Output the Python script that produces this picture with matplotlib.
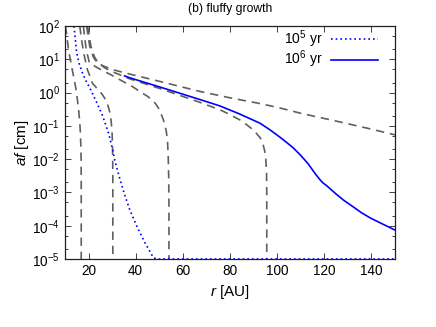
import matplotlib
matplotlib.use('Agg')
import matplotlib.pyplot as plt
from matplotlib.ticker import LogLocator, NullFormatter

plt.rcParams['font.family'] = ['Liberation Sans', 'DejaVu Sans']
plt.rcParams['mathtext.fontset'] = 'custom'
plt.rcParams['mathtext.rm'] = 'Liberation Sans'
plt.rcParams['mathtext.it'] = 'Liberation Sans:italic'
plt.rcParams['font.size'] = 9.8

# Data (r in AU, af in cm)
r_a = [10.2, 10.8, 11.5, 12.5, 13.5, 14.5, 15.3, 15.8, 16.2, 16.5, 16.7, 16.85, 16.9, 16.9]
af_a = [100, 50, 20, 8, 3.5, 1.5, 0.6, 0.3, 0.15, 0.07, 0.03, 0.01, 2e-3, 1e-5]

r_c = [16.3, 17, 18, 19.5, 21.7, 23, 24.5, 26, 27.2, 28.2, 29, 29.6, 30, 30.2, 30.3, 30.3]
af_c = [100, 40, 15, 5, 1.9, 1.5, 1.15, 0.85, 0.62, 0.42, 0.26, 0.14, 0.06, 0.02, 4e-3, 1e-5]

r_d = [17.8, 18.3, 19, 20.4, 24, 30, 35, 38.8, 42, 45, 47, 48.5, 49.8, 50.8, 51.7, 52.4,
       53, 53.5, 53.8, 54, 54.1, 54.1]
af_d = [100, 50, 20, 7.7, 5.5, 3.3, 2.1, 1.5, 1.05, 0.78, 0.6, 0.46, 0.33, 0.23, 0.155, 0.105,
        0.068, 0.035, 0.012, 3e-3, 5e-4, 1e-5]

r_e = [19.2, 19.8, 20.5, 22, 23.4, 26, 30, 35, 50, 67, 80, 92.8, 101, 110, 125, 140, 150]
af_e = [100, 50, 25, 12, 8.3, 6.5, 5.0, 4.0, 2.2, 1.1, 0.7, 0.47, 0.35, 0.24, 0.14, 0.08, 0.054]

r_f = [19.6, 20.3, 21, 22.5, 24, 27, 30, 37.5, 50, 67, 76, 80, 84.3, 87, 89, 91, 92.8,
       93.9, 94.7, 95.2, 95.5, 95.6, 95.6]
af_f = [100, 50, 25, 12, 8, 5.5, 4.3, 2.6, 1.35, 0.52, 0.3, 0.22, 0.15, 0.11, 0.085, 0.062, 0.044,
        0.03, 0.018, 0.01, 4e-3, 1e-3, 1e-5]

# 1e5 yr (dotted)
r_5 = [13.8, 14.4, 14.9, 16, 17.5, 19, 20.5, 23, 26, 28.5, 30.2, 31, 33, 35, 37.5, 40.4, 44, 47.5, 49, 150]
af_5 = [100, 40, 17, 7.5, 3.8, 2.2, 1.4, 0.6, 0.2, 0.06, 0.02, 0.01, 3e-3, 1e-3, 3e-4, 1e-4, 3e-5, 1.1e-5, 1e-5, 1e-5]

# 1e6 yr (solid)
r_6 = [35.3, 37.5, 50, 67, 75.7, 84, 89.8, 92.8, 97, 101, 104, 106.8, 110, 113, 116, 118, 119.2,
       121, 125, 128, 132, 136, 139.6, 145, 150]
af_6 = [3.2, 2.8, 1.5, 0.63, 0.4, 0.23, 0.15, 0.12, 0.076, 0.047, 0.032, 0.022, 0.013, 7.5e-3, 3.8e-3,
        2.5e-3, 2e-3, 1.6e-3, 9e-4, 6e-4, 3.8e-4, 2.4e-4, 1.7e-4, 1.1e-4, 7.4e-5]

fig = plt.figure(figsize=(4.36, 3.27), dpi=100)
ax = fig.add_axes([0.149, 0.208, 0.757, 0.712])

gray = '#606060'
dash = (0, (5, 3.5))
for r, af in [(r_a, af_a), (r_c, af_c), (r_d, af_d), (r_e, af_e), (r_f, af_f)]:
    ax.plot(r, af, color=gray, lw=1.2, linestyle=dash)

ax.plot(r_5, af_5, color='blue', lw=1.2, linestyle=(0, (1, 1.8)), label=r'$10^5$ yr')
ax.plot(r_6, af_6, color='blue', lw=1.2, label=r'$10^6$ yr')

ax.set_yscale('log')
ax.set_xlim(10, 150)
ax.set_ylim(1e-5, 1e2)
ax.set_xticks([20, 40, 60, 80, 100, 120, 140])
ax.yaxis.set_major_locator(LogLocator(base=10, numticks=10))
ax.yaxis.set_minor_locator(LogLocator(base=10, subs=(2, 5), numticks=10))
ax.yaxis.set_minor_formatter(NullFormatter())
ax.tick_params(direction='in', which='both', top=True, right=True, length=4, width=0.6,
               colors='#202020', labelcolor='black', labelsize=9.8)
ax.tick_params(which='minor', length=2.5)
for s in ax.spines.values():
    s.set_linewidth(0.9)
    s.set_color('#202020')

ax.set_xlabel(r'$r$ [AU]', fontsize=11, labelpad=4)
ax.set_ylabel(r'$af$ [cm]', fontsize=11, labelpad=1)
ax.set_title('(b) fluffy growth', fontsize=8.7, pad=10)

ax.legend(loc='upper right', frameon=False, markerfirst=False, handlelength=3.4,
          borderaxespad=0.2, labelspacing=-0.1, handletextpad=0.6,
          bbox_to_anchor=(0.975, 1.025), fontsize=10)

fig.savefig('out.png', dpi=100)
